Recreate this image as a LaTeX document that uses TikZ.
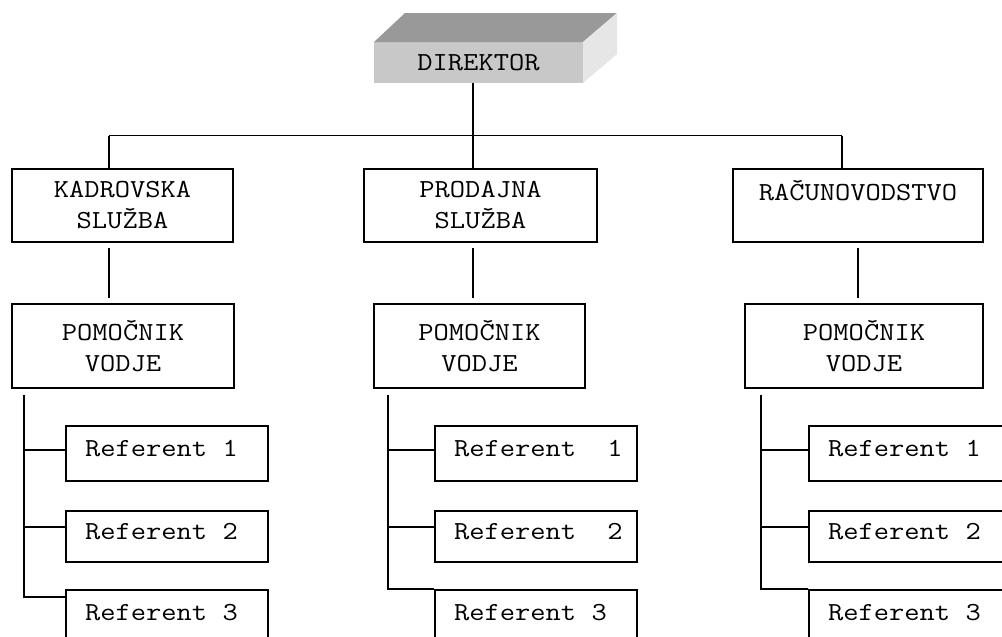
\documentclass[tikz,border=0pt]{standalone}
\usepackage{fontspec}
\newfontfamily\orgfont[FakeStretch=1.14]{Latin Modern Mono}
\usetikzlibrary{positioning}

\definecolor{frontgray}{HTML}{C8C8C8}
\definecolor{topgray}{HTML}{999999}
\definecolor{sidegray}{HTML}{E6E6E6}

% one monospaced blank
\newcommand{\refgap}{\hspace*{15.6pt}}

\tikzset{
    orgtext/.style={font=\orgfont\fontsize{26}{31}\selectfont},
    unit/.style={draw, orgtext, line width=1.8pt, align=center, inner sep=0pt, minimum height=73pt},
    helper/.style={draw, orgtext, line width=1.8pt, align=center, inner sep=0pt, minimum height=84pt},
    refbox/.style={draw, orgtext, line width=1.8pt, minimum width=202pt, text width=183pt,
        inner xsep=9.5pt, inner ysep=0pt, align=left, text height=14pt, text depth=9pt,
        execute at begin node=\hspace*{9.5pt}},
    boss/.style={fill=frontgray, orgtext, inner sep=0pt, outer sep=0pt, minimum width=209pt, minimum height=41pt},
    link/.style={line width=1.8pt}
}

\begin{document}
\begin{tikzpicture}[x=1pt,y=-1pt]
    \useasboundingbox (0,0) rectangle (1002,637);
    \clip (0,0) rectangle (1002,637);

    % director box
    \node[boss] (dir) at (478.5,62.5) {DIREKTOR};
    \fill[topgray] (dir.north west) -- ([shift={(31,-29)}]dir.north west) -- ([shift={(34,-29)}]dir.north east) -- (dir.north east) -- cycle;
    \fill[sidegray] (dir.north east) -- ([shift={(34,-29)}]dir.north east) -- ([shift={(34,-29)}]dir.south east) -- (dir.south east) -- cycle;

    % departments
    \node[unit, minimum width=221pt] (kad) at (122.5,205.5) {KADROVSKA\\SLUŽBA};
    \node[unit, minimum width=233pt] (prod) at (480.5,205.5) {PRODAJNA\\SLUŽBA};
    \node[unit, minimum width=250pt] (rac) at (858,205.5) {RAČUNOVODSTVO\\~};

    \node[helper, minimum width=222pt] (kpom) at (123,346) {POMOČNIK\\VODJE};
    \node[helper, minimum width=211pt] (ppom) at (479.5,346) {POMOČNIK\\VODJE};
    \node[helper, minimum width=238pt] (rpom) at (864,346) {POMOČNIK\\VODJE};

    % referents
    \node[refbox, minimum height=55pt] (kr1) at (167,453.5) {Referent\refgap 1};
    \node[refbox, minimum height=51pt] (kr2) at (167,536.5) {Referent\refgap 2};
    \node[refbox, minimum height=55pt] (kr3) at (167,617.5) {Referent\refgap 3};

    \node[refbox, minimum height=55pt] (pr1) at (536,453.5) {Referent\refgap\refgap 1};
    \node[refbox, minimum height=51pt] (pr2) at (536,536.5) {Referent\refgap\refgap 2};
    \node[refbox, minimum height=55pt] (pr3) at (536,617.5) {Referent\refgap 3};

    \node[refbox, minimum height=55pt] (rr1) at (910,453.5) {Referent\refgap 1};
    \node[refbox, minimum height=51pt] (rr2) at (910,536.5) {Referent\refgap 2};
    \node[refbox, minimum height=55pt] (rr3) at (910,617.5) {Referent\refgap 3};

    % top bar
    \coordinate (kt) at (109,135.5);
    \coordinate (pt) at (473,135.5);
    \coordinate (rt) at (842,135.5);
    \draw[link] (pt |- dir.south) -- (pt);
    \draw[link] (kt) -- (rt);
    \draw[link] (kt) -- (kt |- kad.north);
    \draw[link] (pt) -- (pt |- prod.north);
    \draw[link] (rt) -- (rt |- rac.north);

    % department to helper
    \draw[link, shorten <=5pt, shorten >=5pt] (kt |- kad.south) -- (kt |- kpom.north);
    \draw[link, shorten <=5pt, shorten >=5pt] (pt |- prod.south) -- (pt |- ppom.north);
    \draw[link, shorten <=5pt, shorten >=5pt] (rac.south) -- (rac.south |- rpom.north);

    % helper to referents
    \coordinate (ks) at (24,395);
    \coordinate (ps) at (388,395);
    \coordinate (rs) at (761,395);
    \draw[link] (ks) |- ([yshift=3.5pt]kr1.west);
    \draw[link] (ks) |- ([yshift=9.5pt]kr2.west);
    \draw[link] (ks) |- ([yshift=-8pt]kr3.north west);
    \draw[link] (ps) |- ([yshift=3.5pt]pr1.west);
    \draw[link] (ps) |- ([yshift=9.5pt]pr2.west);
    \draw[link] (ps) |- (pr3.north west);
    \draw[link] (rs) |- ([yshift=3.5pt]rr1.west);
    \draw[link] (rs) |- ([yshift=9.5pt]rr2.west);
    \draw[link] (rs) |- (rr3.north west);
\end{tikzpicture}
\end{document}
